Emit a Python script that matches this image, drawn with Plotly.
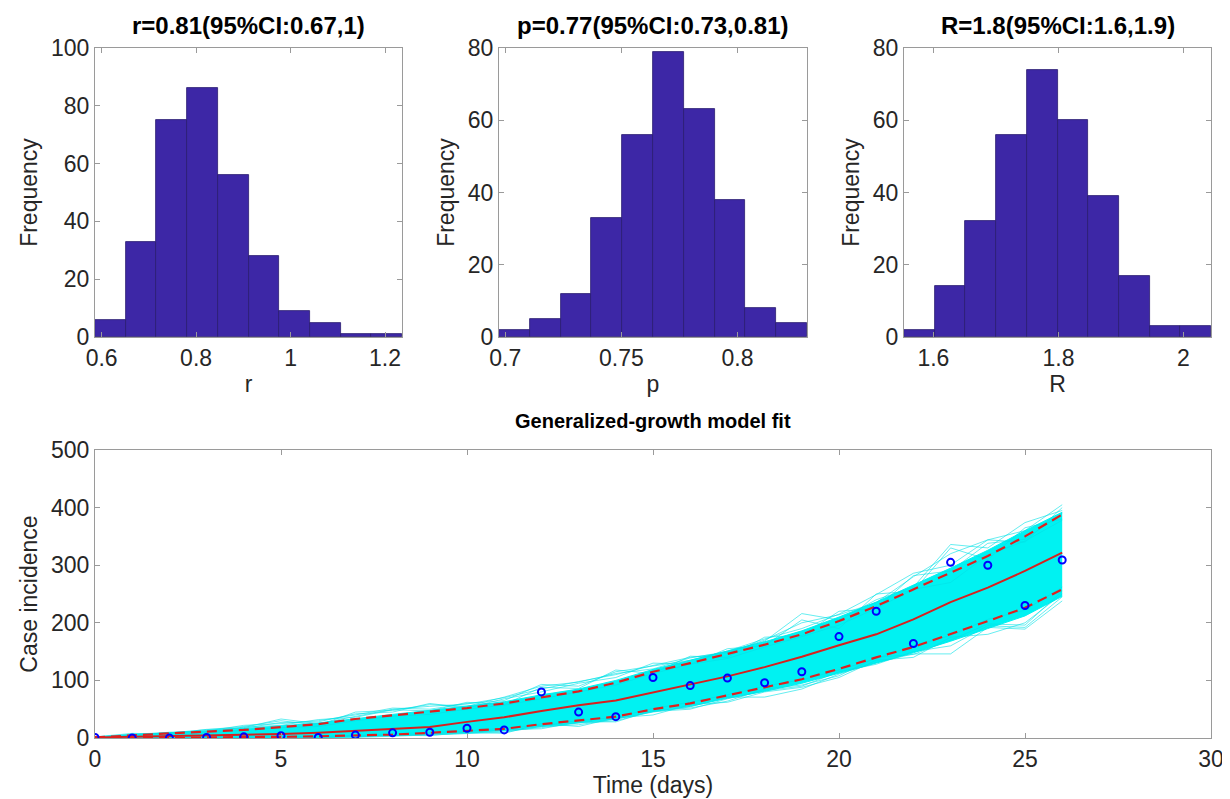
import plotly.graph_objects as go

# histogram counts (10 bins each) and bin layout
r_counts = [6, 33, 75, 86, 56, 28, 9, 5, 1, 1]
r_start, r_width = 0.586, 0.065
p_counts = [2, 5, 12, 33, 56, 79, 63, 38, 8, 4]
p_start, p_width = 0.6973, 0.01326
R_counts = [2, 14, 32, 56, 74, 60, 39, 17, 3, 3]
R_start, R_width = 1.553, 0.0491

r_title = "r=0.81(95%CI:0.67,1)"
p_title = "p=0.77(95%CI:0.73,0.81)"
R_title = "R=1.8(95%CI:1.6,1.9)"

# observed incidence
days = list(range(27))
cases = [1, 0, 0, 1, 2, 4, 1, 5, 9, 10, 17, 14, 80, 45, 37, 105, 91, 104, 96, 115,
         176, 220, 164, 305, 300, 230, 309]

# model fit and 95% bounds
fit_mid = [1, 2, 3, 4, 5, 7, 9, 12, 15, 19, 28, 36, 47, 57, 65, 79, 92, 107, 123, 141,
           161, 180, 206, 236, 261, 290, 322]
fit_hi = [1, 5, 8, 11, 14, 19, 24, 33, 39, 45, 52, 60, 71, 81, 96, 115, 130, 146, 162, 180,
          203, 229, 258, 287, 316, 350, 388]
fit_lo = [1, 0, 0, 1, 1, 2, 3, 4, 6, 9, 12, 16, 24, 30, 37, 50, 60, 74, 88, 102,
          120, 140, 158, 180, 203, 226, 258]

# dense part of the bootstrap curves
core_hi = [2, 6, 9, 12, 16, 21, 26, 34, 41, 48, 55, 63, 75, 85, 100, 119, 135, 151, 167, 186,
           210, 236, 265, 295, 326, 360, 392]
core_lo = [0, 0, 0, 0, 0, 1, 1, 2, 4, 7, 10, 13, 20, 26, 33, 46, 55, 69, 81, 95,
           112, 130, 148, 168, 190, 212, 246]

# stray bootstrap curves that stick out of the band
stray_1 = [1, 7, 9, 14, 20, 30, 22, 45, 48, 58, 55, 71, 90, 97, 112, 120, 139, 150, 168, 216,
           205, 240, 262, 336, 330, 374, 395]
stray_2 = [1, 6, 10, 12, 22, 25, 30, 40, 52, 50, 60, 65, 93, 90, 115, 125, 135, 151, 172, 190,
           215, 249, 286, 300, 344, 360, 405]
stray_3 = [1, 5, 8, 13, 18, 33, 25, 38, 50, 55, 59, 70, 85, 98, 110, 126, 140, 148, 170, 200,
           214, 235, 280, 320, 344, 340, 400]
stray_4 = [2, 8, 7, 15, 17, 27, 28, 42, 45, 60, 52, 68, 80, 95, 105, 130, 128, 155, 160, 205,
           190, 250, 255, 330, 310, 365, 380]
stray_5 = [1, 4, 9, 10, 19, 22, 32, 36, 49, 47, 62, 58, 88, 86, 118, 112, 142, 140, 175, 178,
           220, 225, 282, 290, 338, 345, 390]
stray_6 = [0, 0, 0, 0, 0, 0, 1, 1, 3, 5, 7, 10, 20, 23, 33, 45, 54, 71, 71, 85,
           111, 131, 146, 146, 192, 189, 238]
stray_7 = [1, 0, 1, 0, 1, 2, 0, 3, 5, 4, 10, 8, 25, 20, 35, 40, 58, 62, 80, 88,
           105, 135, 140, 175, 180, 200, 250]
stray_8 = [0, 1, 0, 1, 0, 1, 2, 2, 4, 6, 8, 12, 18, 26, 30, 46, 50, 68, 82, 90,
           115, 128, 150, 160, 195, 192, 245]
stray_9 = [1, 1, 0, 2, 1, 3, 2, 5, 4, 8, 9, 14, 16, 28, 28, 48, 52, 64, 85, 92,
           108, 140, 145, 170, 198, 196, 255]
stray_10 = [1, 3, 5, 9, 14, 18, 20, 30, 38, 41, 50, 57, 68, 80, 92, 112, 128, 138, 158, 176,
            196, 225, 258, 270, 318, 342, 378]
stray_11 = [0, 1, 1, 1, 2, 2, 3, 4, 7, 9, 12, 17, 22, 30, 36, 51, 62, 75, 90, 101,
            118, 138, 160, 178, 206, 222, 262]

BAR = "#3D27A6"
CYAN = "#00F2F2"
FONT = "Liberation Sans, Arial, Helvetica, sans-serif"
TXT = "#262626"
AX = "#9A9A9A"

fig = go.Figure()


def centers(start, width, n):
    return [start + width * (i + 0.5) for i in range(n)]


hists = [(r_counts, r_start, r_width, "x", "y"),
         (p_counts, p_start, p_width, "x2", "y2"),
         (R_counts, R_start, R_width, "x3", "y3")]
for counts, start, width, xa, ya in hists:
    fig.add_trace(go.Bar(x=centers(start, width, len(counts)), y=counts, width=width,
                         marker=dict(color=BAR, line=dict(color="#2A1C70", width=0.8)),
                         xaxis=xa, yaxis=ya, showlegend=False))

# bootstrap band
fig.add_trace(go.Scatter(x=days, y=core_lo, mode="lines", line=dict(color=CYAN, width=1),
                         xaxis="x4", yaxis="y4", showlegend=False))
fig.add_trace(go.Scatter(x=days, y=core_hi, mode="lines", line=dict(color=CYAN, width=1),
                         fill="tonexty", fillcolor=CYAN, xaxis="x4", yaxis="y4", showlegend=False))
strays = [stray_1, stray_2, stray_3, stray_4, stray_5, stray_6, stray_7, stray_8, stray_9,
          stray_10, stray_11]
for s in strays:
    fig.add_trace(go.Scatter(x=days, y=s, mode="lines",
                             line=dict(color="rgba(0,225,230,0.6)", width=1),
                             xaxis="x4", yaxis="y4", showlegend=False))

fig.add_trace(go.Scatter(x=days, y=fit_mid, mode="lines", line=dict(color="#D8201E", width=2),
                         xaxis="x4", yaxis="y4", showlegend=False))
for b in [fit_hi, fit_lo]:
    fig.add_trace(go.Scatter(x=days, y=b, mode="lines",
                             line=dict(color="#E0201E", width=2.2, dash="10px,6px"),
                             xaxis="x4", yaxis="y4", showlegend=False))
fig.add_trace(go.Scatter(x=days, y=cases, mode="markers",
                         marker=dict(symbol="circle-open", color="#0000FF", size=7,
                                     line=dict(width=2, color="#0000FF")),
                         xaxis="x4", yaxis="y4", showlegend=False))


def ax(**kw):
    d = dict(showline=True, linecolor=AX, linewidth=1, mirror="ticks", ticks="inside",
             ticklen=5, tickcolor=AX, showgrid=False, zeroline=False, automargin=False,
             tickfont=dict(family=FONT, size=23, color=TXT),
             title_font=dict(family=FONT, size=23, color=TXT))
    d.update(kw)
    return d


W, H = 1230, 799
top_y = [1 - 329 / H, 1 - 40 / H]
fig.update_layout(
    width=W, height=H, margin=dict(l=0, r=0, t=0, b=0),
    plot_bgcolor="white", paper_bgcolor="white", bargap=0,
    xaxis=ax(domain=[87 / W, 394 / W], range=[r_start, r_start + 10 * r_width],
             tickvals=[0.6, 0.8, 1, 1.2], ticktext=["0.6", "0.8", "1", "1.2"],
             title=dict(text="r", standoff=6), anchor="y"),
    yaxis=ax(domain=top_y, range=[0, 100], tickvals=[0, 20, 40, 60, 80, 100],
             title=dict(text="Frequency", standoff=6), anchor="x"),
    xaxis2=ax(domain=[491 / W, 799 / W], range=[p_start, p_start + 10 * p_width],
              tickvals=[0.7, 0.75, 0.8], ticktext=["0.7", "0.75", "0.8"],
              title=dict(text="p", standoff=6), anchor="y2"),
    yaxis2=ax(domain=top_y, range=[0, 80], tickvals=[0, 20, 40, 60, 80],
              title=dict(text="Frequency", standoff=6), anchor="x2"),
    xaxis3=ax(domain=[896 / W, 1203 / W], range=[R_start, R_start + 10 * R_width],
              tickvals=[1.6, 1.8, 2], ticktext=["1.6", "1.8", "2"],
              title=dict(text="R", standoff=6), anchor="y3"),
    yaxis3=ax(domain=top_y, range=[0, 80], tickvals=[0, 20, 40, 60, 80],
              title=dict(text="Frequency", standoff=6), anchor="x3"),
    xaxis4=ax(domain=[87 / W, 1203 / W], range=[0, 30], tickvals=[0, 5, 10, 15, 20, 25, 30],
              title=dict(text="Time (days)", standoff=6), anchor="y4"),
    yaxis4=ax(domain=[1 - 730 / H, 1 - 442 / H], range=[0, 500],
              tickvals=[0, 100, 200, 300, 400, 500],
              title=dict(text="Case incidence", standoff=6), anchor="x4"),
)

titles = [(r_title, 240.5), (p_title, 645), (R_title, 1049.5)]
for text, cx in titles:
    fig.add_annotation(text="<b>%s</b>" % text, x=cx / W, y=1 - 17 / H, xref="paper", yref="paper",
                       showarrow=False, xanchor="center", yanchor="middle",
                       font=dict(family=FONT, size=24, color="black"))
fig.add_annotation(text="<b>Generalized-growth model fit</b>", x=645 / W, y=1 - 413 / H,
                   xref="paper", yref="paper", showarrow=False, xanchor="center", yanchor="middle",
                   font=dict(family=FONT, size=20, color="black"))

fig.write_html("out.html")
